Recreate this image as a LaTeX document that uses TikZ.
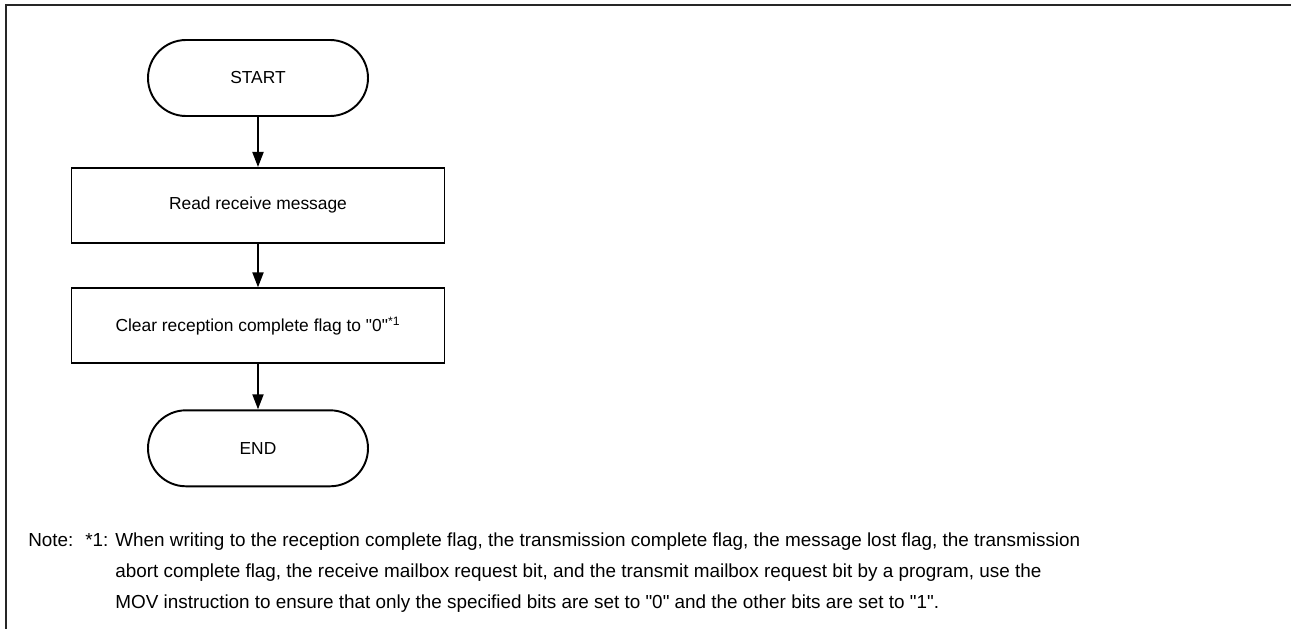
\documentclass[tikz,border=0pt]{standalone}
\usepackage{fontspec}
\setmainfont{Liberation Sans}
\usepackage{tikz}
\usetikzlibrary{positioning,arrows.meta}
\tikzset{
  % Specifications for style of nodes:
  base/.style = {
    rectangle,
    draw=black,
    line width=1.1pt,
    text centered,
    font=\fontsize{9.9}{12}\selectfont
  },
  terminal/.style = {
    base,
    rounded corners=0.76cm,
    minimum width=4.4cm,
    minimum height=1.52cm,
    node distance=1cm
  },
  process/.style = {
    base,
    minimum width=7.46cm,
    minimum height=1.5cm,
    node distance=0.87cm
  },
  flow/.style = {
    -{Triangle[length=0.3cm,width=0.22cm]},
    line width=1.1pt
  },
  note/.style = {
    anchor=base west,
    inner sep=0pt,
    font=\fontsize{10.75}{13}\selectfont
  },
}
\def\q{\textquotedbl}

\begin{document}
\begin{tikzpicture}
    \useasboundingbox (0,0) rectangle (25.82,-12.58);
    % Frame
    \draw[line width=1.1pt, black!85] (0.12,-12.58) -- (0.12,-0.1) -- (25.82,-0.1);
    % Specification of nodes (position, etc.)
    \node[terminal] (start) at (5.16,-1.56)           {START};
    \node[process, below=1cm of start] (readmsg)      {Read receive message};
    \node[process, below=of readmsg]   (clearflag)    {Clear reception complete flag to \q0\q\textsuperscript{*1}};
    \node[terminal, node distance=0.9cm, below=of clearflag] (stop) {END};
    % Connectors
    \draw[flow] (start)     -- (readmsg);
    \draw[flow] (readmsg)   -- (clearflag);
    \draw[flow] (clearflag) -- (stop);
    % Note
    \node[note] (notelabel) at (0.56,-10.92) {Note:};
    \node[note] (notemark)  at (1.7,-10.92)  {*1:};
    \node[note] (noteline1) at (2.3,-10.92)  {When writing to the reception complete flag, the transmission complete flag, the message lost flag, the transmission};
    \node[note] (noteline2) at (2.3,-11.54)  {abort complete flag, the receive mailbox request bit, and the transmit mailbox request bit by a program, use the};
    \node[note] (noteline3) at (2.3,-12.16)  {MOV instruction to ensure that only the specified bits are set to \q0\q{} and the other bits are set to \q1\q.};
\end{tikzpicture}
\end{document}
